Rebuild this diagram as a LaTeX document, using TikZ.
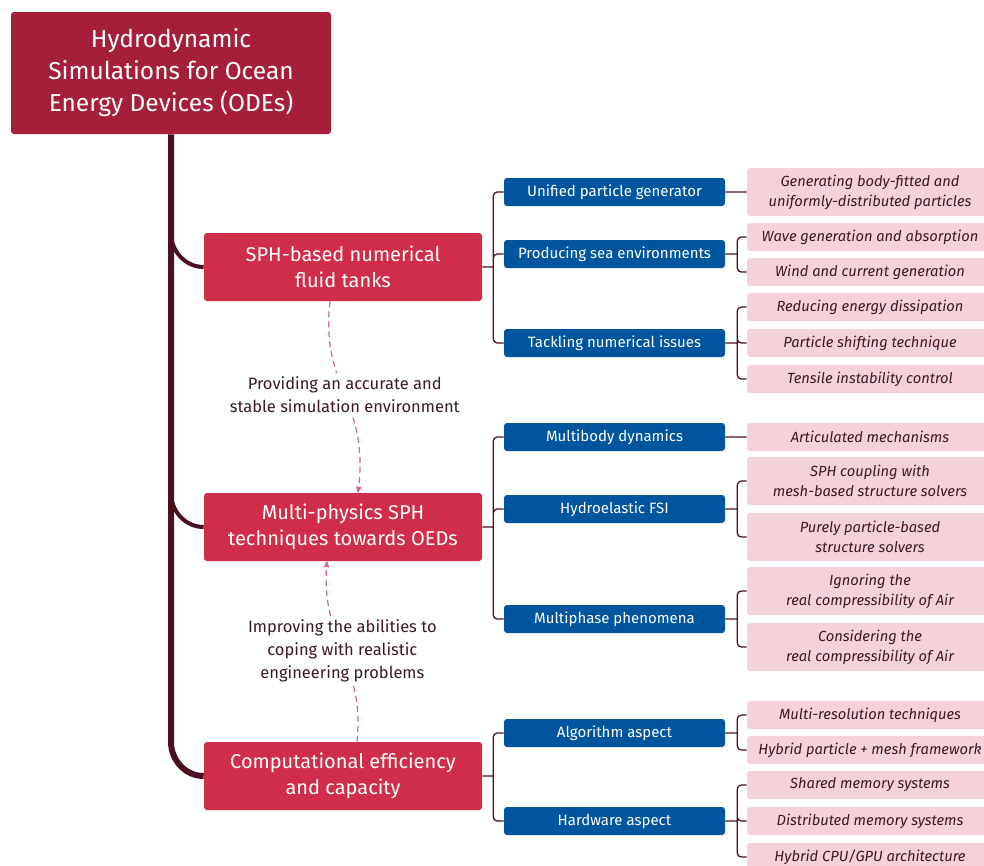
\documentclass[tikz,border=0pt]{standalone}
\usepackage{fontspec}
\setmainfont{Fira Sans}
\usepackage{tikz}
\usetikzlibrary{arrows}

\definecolor{rootred}{HTML}{A51E3A}
\definecolor{topicred}{HTML}{D02E48}
\definecolor{subblue}{HTML}{00569E}
\definecolor{leafpink}{HTML}{F4D2D9}
\definecolor{trunkbrown}{HTML}{4B101E}
\definecolor{inktext}{HTML}{3A1B25}
\definecolor{linkpink}{HTML}{D7638C}

\begin{document}
\begin{tikzpicture}[x=1pt,y=-1pt,
  >=stealth',semithick,
  root/.style={fill=rootred,text=white,rounded corners=3pt,minimum width=320pt,minimum height=122pt,align=center,inner sep=0pt,font=\fontsize{24.5}{32}\selectfont},
  topic/.style={fill=topicred,text=white,rounded corners=3pt,minimum width=278pt,minimum height=68pt,align=center,inner sep=0pt,font=\fontsize{20}{26.5}\selectfont},
  sub/.style={fill=subblue,text=white,rounded corners=3pt,minimum width=221pt,minimum height=28pt,inner sep=0pt,font=\fontsize{15}{17}\selectfont},
  leaf/.style={fill=leafpink,text=inktext,rounded corners=3pt,minimum width=246pt,minimum height=28pt,align=center,inner sep=0pt,font=\fontsize{14.7}{20}\selectfont\itshape},
  tall/.style={leaf,minimum height=48pt},
  trunk/.style={draw=trunkbrown,line width=6pt},
  twig/.style={draw=trunkbrown,line width=4pt},
  branch/.style={draw=trunkbrown,line width=1.3pt,rounded corners=4pt},
  link/.style={draw=linkpink,line width=1.2pt,dash pattern=on 6pt off 4pt,->},
  note/.style={fill=white,text=inktext,align=center,inner sep=4pt,font=\fontsize{16.5}{23}\selectfont}]

  \clip (0,0) rectangle (984,865);

  % main topic and the three themes
  \node [root] (ode) at (171,73) {Hydrodynamic\\Simulations for Ocean\\Energy Devices (ODEs)};
  \node [topic] (sph) at (343,267) {SPH-based numerical\\fluid tanks};
  \node [topic] (mps) at (343,527) {Multi-physics SPH\\techniques towards OEDs};
  \node [topic] (eff) at (343,776) {Computational efficiency\\and capacity};

  % second level
  \node [sub] (upg) at (614.5,192) {Unified particle generator};
  \node [sub] (pse) at (614.5,254) {Producing sea environments};
  \node [sub] (tni) at (614.5,343) {Tackling numerical issues};
  \node [sub] (mbd) at (614.5,437) {Multibody dynamics};
  \node [sub] (hfs) at (614.5,509) {Hydroelastic FSI};
  \node [sub] (mph) at (614.5,619) {Multiphase phenomena};
  \node [sub] (alg) at (614.5,733) {Algorithm aspect};
  \node [sub] (hwa) at (614.5,821) {Hardware aspect};

  % third level
  \node [tall] (gen) at (870,192) {Generating body-fitted and\\uniformly-distributed particles};
  \node [leaf] (wave) at (870,237) {Wave generation and absorption};
  \node [leaf] (wind) at (870,272) {Wind and current generation};
  \node [leaf] (diss) at (870,307) {Reducing energy dissipation};
  \node [leaf] (shift) at (870,343) {Particle shifting technique};
  \node [leaf] (tens) at (870,379) {Tensile instability control};
  \node [leaf] (art) at (870,437) {Articulated mechanisms};
  \node [tall] (cpl) at (870,481) {SPH coupling with\\mesh-based structure solvers};
  \node [tall] (ppb) at (870,537) {Purely particle-based\\structure solvers};
  \node [tall] (ign) at (870,591) {Ignoring the\\real compressibility of Air};
  \node [tall] (cons) at (870,647) {Considering the\\real compressibility of Air};
  \node [leaf] (mres) at (870,715) {Multi-resolution techniques};
  \node [leaf] (hyb) at (870,750) {Hybrid particle + mesh framework};
  \node [leaf] (smem) at (870,785) {Shared memory systems};
  \node [leaf] (dmem) at (870,821) {Distributed memory systems};
  \node [leaf] (gpu) at (870,857) {Hybrid CPU/GPU architecture};

  % trunk
  \draw [trunk] (ode.south) -- (ode.south |- eff.north) to[out=-90,in=180] (eff.west);
  \draw [twig] (ode.south |- sph.north) to[out=-90,in=180] (sph.west);
  \draw [twig] (ode.south |- mps.north) to[out=-90,in=180] (mps.west);

  % junctions
  \path (sph.east) ++(11,0) coordinate (j1);
  \path (mps.east) ++(11,0) coordinate (j2);
  \path (eff.east) ++(11,0) coordinate (j3);
  \path (pse.east) ++(12,0) coordinate (k1);
  \path (tni.east) ++(12,0) coordinate (k2);
  \path (hfs.east) ++(12,0) coordinate (k3);
  \path (mph.east) ++(12,0) coordinate (k4);
  \path (alg.east) ++(12,0) coordinate (k5);
  \path (hwa.east) ++(12,0) coordinate (k6);

  \path [branch]
    (sph.east) -- (j1) (j1) |- (upg.west) (j1) |- (pse.west) (j1) |- (tni.west)
    (mps.east) -- (j2) (j2) |- (mbd.west) (j2) |- (hfs.west) (j2) |- (mph.west)
    (eff.east) -- (j3) (j3) |- (alg.west) (j3) |- (hwa.west);

  \path [branch]
    (upg.east) -- (gen.west)
    (pse.east) -- (k1) (k1) |- (wave.west) (k1) |- (wind.west)
    (tni.east) -- (k2) (k2) |- (diss.west) (k2) |- (shift.west) (k2) |- (tens.west)
    (mbd.east) -- (art.west)
    (hfs.east) -- (k3) (k3) |- (cpl.west) (k3) |- (ppb.west)
    (mph.east) -- (k4) (k4) |- (ign.west) (k4) |- (cons.west)
    (alg.east) -- (k5) (k5) |- (mres.west) (k5) |- (hyb.west)
    (hwa.east) -- (k6) (k6) |- (smem.west) (k6) |- (dmem.west) (k6) |- (gpu.west);

  % dashed relations
  \draw [link] ([xshift=-13pt]sph.south) .. controls +(-10,88) and +(12,-93) .. ([xshift=15pt]mps.north)
    node [note,pos=0.5] (acc) {Providing an accurate and\\stable simulation environment};
  \draw [link] ([xshift=14pt]eff.south |- eff.north) .. controls +(8,-81) and +(-7,80) .. ([xshift=-16pt]mps.south)
    node [note,pos=0.5] (rea) {Improving the abilities to\\coping with realistic\\engineering problems};

\end{tikzpicture}
\end{document}
